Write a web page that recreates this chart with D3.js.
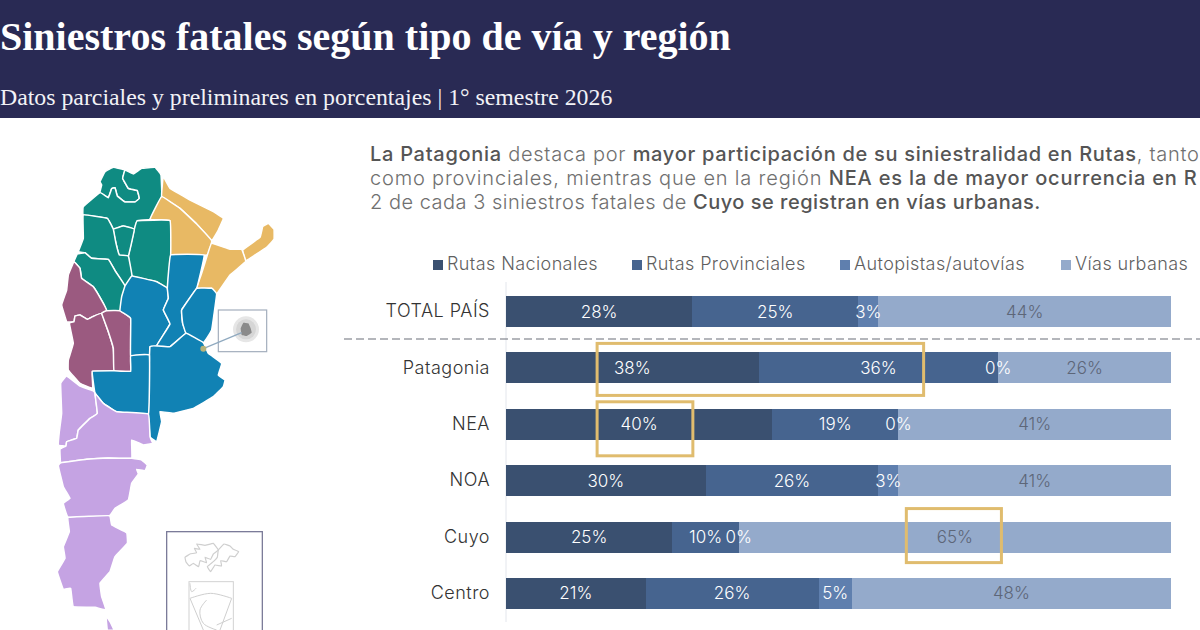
<!DOCTYPE html>
<html lang="es">
<head>
<meta charset="utf-8">
<title>Siniestros fatales según tipo de vía y región</title>
<script src="https://cdn.jsdelivr.net/npm/d3@7"></script>
<style>
  html, body { margin: 0; padding: 0; background: #fff; overflow: hidden; }
  svg { display: block; }
  text { font-family: Inter, "Open Sans", sans-serif; }
</style>
</head>
<body>
<div id="chart"></div>
<script>
// Data
const rows = ["TOTAL PAÍS", "Patagonia", "NEA", "NOA", "Cuyo", "Centro"];
const seriesNames = ["Rutas Nacionales", "Rutas Provinciales", "Autopistas/autovías", "Vías urbanas"];
const rutasNacionales = [28, 38, 40, 30, 25, 21];
const rutasProvinciales = [25, 36, 19, 26, 10, 26];
const autopistas = [3, 0, 0, 3, 0, 5];
const viasUrbanas = [44, 26, 41, 41, 65, 48];
const seriesValues = [rutasNacionales, rutasProvinciales, autopistas, viasUrbanas];
const seriesColors = ["#3a5070", "#46648f", "#5f7fae", "#94aacb"];
const highlights = [
    { row: "Patagonia", from: 13.7, to: 62.8, above: 9, below: 12 },
    { row: "NEA", from: 13.7, to: 28.1, above: 7, below: 16 },
    { row: "Cuyo", from: 60.2, to: 74.5, above: 13, below: 10 }
];

// Map outlines in zoom units
const regionColors = { NOA: "#0f8b82", NEA: "#e8b964", Centro: "#1182b4", Cuyo: "#9b5a80", Patagonia: "#c5a3e3" };
const provinces = [
    ["NOA", [[300,95],[315,65],[340,52],[375,60],[368,85],[385,115],[412,122],[418,145],[405,156],[375,156],[352,138],[345,113],[335,116],[325,143],[300,128],[305,105]]],
    ["NOA", [[375,60],[400,72],[425,55],[465,52],[483,75],[485,140],[450,208],[412,212],[403,238],[370,228],[340,238],[322,205],[250,195],[250,170],[300,128],[325,143],[335,116],[345,113],[352,138],[375,156],[405,156],[418,145],[412,122],[385,115],[368,85]]],
    ["NEA", [[490,80],[510,115],[570,150],[640,185],[670,205],[655,240],[635,272],[590,222],[540,175],[485,140]]],
    ["NEA", [[485,140],[540,175],[590,222],[635,272],[622,315],[512,315],[510,212],[450,208]]],
    ["NEA", [[728,300],[780,262],[788,230],[805,220],[822,238],[822,268],[800,292],[738,332]]],
    ["NEA", [[635,280],[690,298],[725,298],[737,335],[690,375],[650,432],[635,415],[590,415],[605,370],[622,315]]],
    ["NOA", [[412,212],[510,212],[512,315],[502,414],[470,395],[396,378],[385,318],[403,238]]],
    ["NOA", [[340,238],[370,228],[403,238],[385,318],[358,315],[348,280]]],
    ["NOA", [[250,195],[322,205],[340,238],[348,280],[358,315],[385,318],[396,378],[375,408],[345,362],[325,328],[275,325],[255,308],[235,305],[250,265]]],
    ["NOA", [[222,335],[232,312],[255,308],[275,325],[325,328],[345,362],[375,408],[360,482],[320,482],[310,460],[280,410],[245,385],[240,355]]],
    ["Cuyo", [[222,335],[240,355],[245,385],[280,410],[310,460],[320,482],[305,490],[278,500],[262,508],[240,495],[225,498],[222,515],[200,515],[185,465],[200,420],[205,375]]],
    ["Cuyo", [[225,498],[240,495],[262,508],[278,500],[305,490],[325,545],[340,595],[342,662],[277,664],[278,715],[240,700],[205,660],[205,630],[220,580],[208,520],[222,515]]],
    ["Cuyo", [[305,490],[320,482],[360,482],[392,505],[392,618],[392,664],[342,662],[340,595],[325,545]]],
    ["Centro", [[360,482],[365,440],[375,408],[396,378],[470,395],[502,414],[505,445],[490,480],[510,522],[470,587],[450,590],[448,616],[392,618],[392,505]]],
    ["Centro", [[512,315],[612,315],[590,415],[545,480],[548,520],[558,550],[510,590],[470,587],[510,522],[490,480],[505,445],[502,414]]],
    ["Centro", [[590,415],[635,415],[650,432],[635,540],[610,578],[558,550],[548,520],[545,480]]],
    ["Centro", [[450,590],[510,590],[558,550],[610,578],[625,610],[665,640],[655,675],[675,690],[670,710],[640,740],[580,775],[520,790],[480,785],[485,815],[470,875],[450,860],[445,792]]],
    ["Centro", [[277,664],[342,662],[392,664],[392,618],[448,616],[445,792],[350,785],[310,760],[285,730]]],
    ["Patagonia", [[200,678],[240,708],[278,722],[285,730],[292,790],[270,805],[235,840],[230,865],[200,875],[198,888],[175,885],[178,845],[185,790],[182,700]]],
    ["Patagonia", [[285,730],[310,760],[350,785],[445,792],[450,860],[458,880],[430,885],[395,870],[395,925],[325,924],[260,928],[183,938],[180,898],[198,888],[200,875],[230,865],[235,840],[270,805],[292,790]]],
    ["Patagonia", [[175,948],[183,938],[260,928],[325,924],[395,925],[425,930],[442,945],[435,962],[410,958],[415,972],[395,1000],[385,1050],[345,1075],[328,1097],[205,1102],[190,1060],[210,1045],[190,1010]]],
    ["Patagonia", [[205,1102],[328,1097],[335,1125],[380,1148],[382,1180],[345,1220],[330,1265],[300,1300],[305,1340],[318,1380],[285,1372],[220,1370],[212,1315],[190,1318],[172,1265],[195,1225],[190,1190],[208,1145]]],
    ["Patagonia", [[318,1398],[330,1415],[342,1440],[322,1440]]]
];
const cabaBlob = [[722,535],[730,518],[745,520],[752,535],[755,548],[740,558],[725,555]];
const islands = [
    [[555,1222],[570,1212],[590,1208],[583,1195],[600,1198],[590,1182],[615,1186],[640,1180],[655,1200],[640,1212],[632,1228],[615,1222],[620,1238],[600,1232],[596,1250],[580,1240],[568,1248],[558,1236]],
    [[655,1200],[672,1182],[690,1188],[700,1198],[716,1205],[705,1220],[690,1218],[680,1235],[662,1232],[665,1248],[645,1245],[632,1265],[622,1250],[640,1235],[652,1222]]
];
const antarctica = [
    [[570,1345],[632,1330],[695,1345]],
    [[570,1345],[610,1440]],
    [[695,1345],[660,1440]],
    [[620,1350],[600,1380],[610,1420],[650,1440]],
    [[650,1425],[695,1405]],
    [[570,1300],[575,1325],[588,1315]]
];

const width = 1200, height = 630;

const svg = d3.select("#chart").append("svg")
    .attr("width", width)
    .attr("height", height)
    .attr("viewBox", [0, 0, width, height]);

// Header
svg.append("rect").attr("width", width).attr("height", 118).attr("fill", "#292a54");

svg.append("text")
    .attr("x", 0).attr("y", 50)
    .attr("fill", "#fff")
    .style("font-family", "'Liberation Serif', serif")
    .style("font-weight", 700)
    .style("font-size", "40px")
    .text("Siniestros fatales según tipo de vía y región");

svg.append("text")
    .attr("x", 0).attr("y", 105)
    .attr("fill", "#f2f2f6")
    .style("font-family", "'Liberation Serif', serif")
    .style("font-size", "23.8px")
    .text("Datos parciales y preliminares en porcentajes | 1° semestre 2026");

// Intro text, [text, is it bold]. The reference is cropped after "en R"
const introLines = [
    [["La Patagonia", 1], [" destaca por ", 0], ["mayor participación de su siniestralidad en Rutas", 1], [", tanto", 0]],
    [["como provinciales, mientras que en la región ", 0], ["NEA es la de mayor ocurrencia en R", 1]],
    [["2 de cada 3 siniestros fatales de ", 0], ["Cuyo se registran en vías urbanas.", 1]]
];
const introSpacing = [0.72, 0.82, 0.5];
introLines.forEach((line, i) => {
    const t = svg.append("text")
        .attr("x", 370)
        .attr("y", 161 + i * 24)
        .style("font-size", "20px")
        .style("letter-spacing", `${introSpacing[i]}px`);
    line.forEach(([s, bold]) => t.append("tspan")
        .attr("fill", bold ? "#555" : "#707070")
        .style("font-weight", bold ? 500 : 300)
        .text(s));
});

// Scales
const x = d3.scaleLinear().domain([0, 100]).range([506, 1171]);
const y = d3.scaleBand().domain(rows).range([296, 609]).paddingInner(0.45);
const mapX = d3.scaleLinear().domain([0, 900]).range([0, 300]);
const mapY = d3.scaleLinear().domain([0, 1440]).range([150, 630]);
const mapShape = d3.line().x(d => mapX(d[0])).y(d => mapY(d[1])).curve(d3.curveCardinalClosed.tension(0.8));

// Map
const map = svg.append("g");
map.selectAll("path.province")
    .data(provinces)
    .join("path")
    .attr("class", "province")
    .attr("d", d => mapShape(d[1]))
    .attr("fill", d => regionColors[d[0]])
    .attr("stroke", "#fff")
    .attr("stroke-width", 1.5)
    .attr("stroke-linejoin", "round");

// CABA inset
map.append("rect")
    .attr("x", mapX(655)).attr("y", mapY(480))
    .attr("width", mapX(800) - mapX(655)).attr("height", mapY(605) - mapY(480))
    .attr("fill", "#fff").attr("stroke", "#a3aebd").attr("stroke-width", 1.2);
map.append("circle").attr("cx", mapX(738)).attr("cy", mapY(538)).attr("r", 13).attr("fill", "#e6e6e6");
map.append("circle").attr("cx", mapX(738)).attr("cy", mapY(538)).attr("r", 10).attr("fill", "#d6d6d6");
map.append("path")
    .attr("d", mapShape(cabaBlob))
    .attr("fill", "#8a8a8a");
map.append("line")
    .attr("x1", mapX(610)).attr("y1", mapY(596))
    .attr("x2", mapX(725)).attr("y2", mapY(548))
    .attr("stroke", "#8fa9bf").attr("stroke-width", 1.2);
map.append("circle").attr("cx", mapX(610)).attr("cy", mapY(596)).attr("r", 3).attr("fill", "#b5b27a");

// Islands inset
map.append("rect")
    .attr("x", mapX(500)).attr("y", mapY(1145))
    .attr("width", mapX(787) - mapX(500)).attr("height", 120)
    .attr("fill", "#fff").attr("stroke", "#7a7a98").attr("stroke-width", 1.3);
map.selectAll("path.island")
    .data(islands)
    .join("path")
    .attr("class", "island")
    .attr("d", d => mapShape(d))
    .attr("fill", "none").attr("stroke", "#cfcfcf").attr("stroke-width", 1.2);
map.append("rect")
    .attr("x", mapX(567)).attr("y", mapY(1295))
    .attr("width", mapX(700) - mapX(567)).attr("height", 60)
    .attr("fill", "none").attr("stroke", "#d2d2d2");
const antarcticLine = d3.line().x(d => mapX(d[0])).y(d => mapY(d[1])).curve(d3.curveCatmullRom);
map.selectAll("path.antarctica")
    .data(antarctica)
    .join("path")
    .attr("class", "antarctica")
    .attr("d", d => antarcticLine(d))
    .attr("fill", "none").attr("stroke", "#cfcfcf");

// Legend
const legendX = [433, 632, 840, 1061];
const legend = svg.append("g");
seriesNames.forEach((name, i) => {
    legend.append("rect")
        .attr("x", legendX[i]).attr("y", 260)
        .attr("width", 10).attr("height", 10)
        .attr("fill", seriesColors[i]);
    legend.append("text")
        .attr("x", legendX[i] + 14).attr("y", 270)
        .attr("fill", "#5f5f5f")
        .style("font-size", "18px")
        .style("letter-spacing", "0.4px")
        .style("font-weight", 300)
        .text(name);
});

// Axis line and row labels
const yAxis = svg.append("g")
    .attr("transform", `translate(${x(0)},0)`)
    .call(d3.axisLeft(y).tickSize(0).tickPadding(16));
yAxis.select(".domain").attr("d", "M0,282V622").attr("stroke", "#e3e6ec");
yAxis.selectAll("text")
    .attr("fill", "#333")
    .style("font-size", "18px")
    .style("letter-spacing", "0.5px")
    .style("font-weight", 300);

// Bars
const stacked = rows.map((row, r) => {
    let start = 0;
    return seriesValues.map((values, s) => {
        const seg = { row, series: s, value: values[r], start, end: start + values[r] };
        start = seg.end;
        return seg;
    });
}).flat();

svg.append("g")
    .attr("shape-rendering", "crispEdges")
    .selectAll("rect")
    .data(stacked)
    .join("rect")
    .attr("x", d => x(d.start))
    .attr("y", d => y(d.row))
    .attr("width", d => x(d.end) - x(d.start))
    .attr("height", y.bandwidth())
    .attr("fill", d => seriesColors[d.series]);

svg.append("g")
    .selectAll("text")
    .data(stacked)
    .join("text")
    .attr("x", d => x((d.start + d.end) / 2))
    .attr("y", d => y(d.row) + y.bandwidth() / 2 + 6)
    .attr("text-anchor", "middle")
    .attr("fill", d => d.series === 3 ? "#5d6678" : "#fff")
    .style("font-size", "17px")
    .style("font-weight", 300)
    .text(d => `${d.value}%`);

// Dashed separator
svg.append("line")
    .attr("x1", 344).attr("x2", 1200)
    .attr("y1", 339).attr("y2", 339)
    .attr("stroke", "#6b6f78")
    .attr("stroke-width", 1.2)
    .attr("stroke-dasharray", "8 4");

// Highlight boxes
svg.append("g")
    .selectAll("rect")
    .data(highlights)
    .join("rect")
    .attr("x", d => x(d.from))
    .attr("y", d => y(d.row) - d.above)
    .attr("width", d => x(d.to) - x(d.from))
    .attr("height", d => y.bandwidth() + d.above + d.below)
    .attr("fill", "none")
    .attr("stroke", "#e0bc6e")
    .attr("stroke-width", 3);
</script>
</body>
</html>
